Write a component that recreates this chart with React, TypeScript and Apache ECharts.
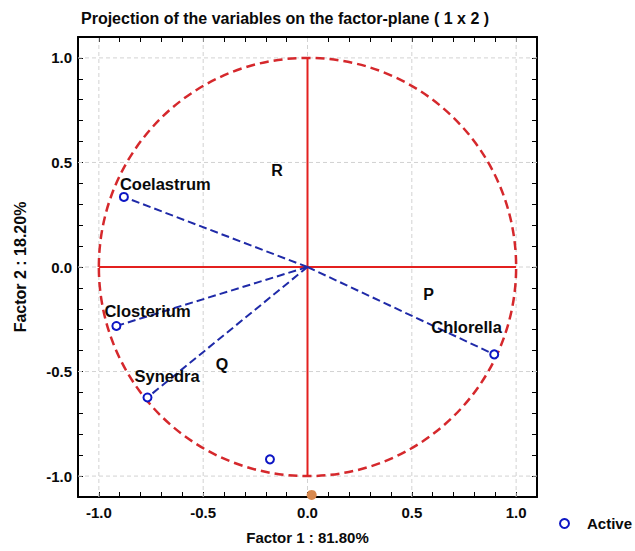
import React, { useEffect, useRef } from "react";
import * as echarts from "echarts";

// ---- data ----
const variableNames = ["Coelastrum", "Closterium", "Synedra", "Chlorella"];
const variableF1 = [-0.88, -0.916, -0.767, 0.895];
const variableF2 = [0.335, -0.282, -0.624, -0.418];
const unlabeledF1 = [-0.18];
const unlabeledF2 = [-0.92];
const supplementaryF1 = [0.02];
const supplementaryF2 = [-1.09];
const regionNames = ["R", "P", "Q"];
const regionF1 = [-0.146, 0.58, -0.41];
const regionF2 = [0.46, -0.13, -0.466];
const majorTicks = [-1.0, -0.5, 0.0, 0.5, 1.0];
const axisMin = -1.1;
const axisMax = 1.1;
const minorStep = 0.1;
const unitCircleRadius = [1];

const titleText = "Projection of the variables on the factor-plane ( 1 x 2 )";
const xName = "Factor 1 : 81.80%";
const yName = "Factor 2 : 18.20%";
const legendName = "Active";

// ---- styling ----
const FONT = "'Liberation Sans', Arial, sans-serif";
const BLUE = "#0d16c4";
const BLUE_LINE = "#1f2aa8";
const RED = "#e3201f";
const RED_CIRCLE = "#d5282c";
const TEXT = "#0a0a0a";
const labelOffsets: Record<string, [number, number]> = {
  Coelastrum: [-4, -13],
  Closterium: [-12, -15],
  Synedra: [-13, -21],
  Chlorella: [-63, -27],
};

const isMajor = (v: number) => Math.abs(v * 2 - Math.round(v * 2)) < 1e-6;
const fmt = (v: number) => (isMajor(v) ? (Math.round(v * 10) / 10).toFixed(1) : "");

export default function App() {
  const ref = useRef<HTMLDivElement>(null);
  useEffect(() => {
    if (!ref.current) return;
    const chart = echarts.init(ref.current, null, { renderer: "svg" });

    const baseAxis = {
      type: "value" as const,
      min: axisMin,
      max: axisMax,
      interval: minorStep,
      axisLine: { show: true, onZero: false, lineStyle: { color: "#000", width: 2 } },
      axisTick: { show: true, inside: true, length: 5, lineStyle: { color: "#000", width: 1 } },
      splitLine: { show: false },
    };
    const labelStyle = {
      fontFamily: FONT,
      fontWeight: "bold" as const,
      fontSize: 15,
      color: TEXT,
      formatter: (v: number) => fmt(v),
    };

    const gridStyle = { color: "#d2d2d2", width: 1, type: [4, 3] };
    const gridSeries = [
      ...majorTicks.map((v) => ({
        type: "line",
        name: "gx" + v,
        data: [
          [v, axisMin],
          [v, axisMax],
        ],
        symbol: "none",
        lineStyle: gridStyle,
        silent: true,
        z: 0,
      })),
      ...majorTicks.map((v) => ({
        type: "line",
        name: "gy" + v,
        data: [
          [axisMin, v],
          [axisMax, v],
        ],
        symbol: "none",
        lineStyle: gridStyle,
        silent: true,
        z: 0,
      })),
    ];

    const spokes = variableNames.map((name, i) => ({
      type: "line",
      name: "spoke-" + name,
      data: [
        [0, 0],
        [variableF1[i], variableF2[i]],
      ],
      symbol: "none",
      lineStyle: { color: BLUE_LINE, width: 2, type: [8, 4] },
      silent: true,
      z: 4,
    }));

    const option: any = {
      animation: false,
      title: {
        text: titleText,
        left: 81,
        top: 10,
        padding: 0,
        textStyle: { fontFamily: FONT, fontSize: 16, fontWeight: "bold", color: TEXT },
      },
      legend: {
        data: [legendName],
        left: 559,
        top: 516,
        padding: 0,
        itemWidth: 9,
        itemHeight: 9,
        textStyle: {
          fontFamily: FONT,
          fontSize: 15,
          fontWeight: "bold",
          color: TEXT,
          padding: [0, 0, 0, 13],
        },
      },
      grid: { left: 78, top: 37, width: 459, height: 460, containLabel: false },
      xAxis: [
        {
          ...baseAxis,
          position: "bottom",
          name: xName,
          nameLocation: "middle",
          nameGap: 33,
          nameTextStyle: { fontFamily: FONT, fontSize: 15, fontWeight: "bold", color: TEXT },
          axisLabel: { ...labelStyle, margin: 8, showMinLabel: true, showMaxLabel: true },
        },
        { ...baseAxis, position: "top", axisLabel: { show: false } },
      ],
      yAxis: [
        {
          ...baseAxis,
          position: "left",
          name: yName,
          nameLocation: "middle",
          nameGap: 50,
          nameRotate: 90,
          nameTextStyle: { fontFamily: FONT, fontSize: 16, fontWeight: "bold", color: TEXT },
          axisLabel: { ...labelStyle, margin: 6 },
        },
        { ...baseAxis, position: "right", axisLabel: { show: false } },
      ],
      series: [
        ...gridSeries,
        {
          type: "custom",
          name: "circle",
          silent: true,
          z: 2,
          data: unitCircleRadius.map((r) => [0, 0, r]),
          renderItem: (params: any, api: any) => {
            const c = api.coord([api.value(0), api.value(1)]);
            const s = api.size([api.value(2), api.value(2)]);
            return {
              type: "ellipse",
              shape: { cx: c[0], cy: c[1], rx: s[0], ry: s[1] },
              style: { fill: "none", stroke: RED_CIRCLE, lineWidth: 2.5, lineDash: [9, 5] },
            };
          },
        },
        {
          type: "line",
          name: "axis-h",
          data: [
            [majorTicks[0], 0],
            [majorTicks[majorTicks.length - 1], 0],
          ],
          symbol: "none",
          lineStyle: { color: RED, width: 2 },
          silent: true,
          z: 3,
        },
        {
          type: "line",
          name: "axis-v",
          data: [
            [0, majorTicks[0]],
            [0, majorTicks[majorTicks.length - 1]],
          ],
          symbol: "none",
          lineStyle: { color: RED, width: 2 },
          silent: true,
          z: 3,
        },
        ...spokes,
        {
          type: "scatter",
          name: legendName,
          symbol: "emptyCircle",
          symbolSize: 8,
          itemStyle: { color: BLUE, borderWidth: 2.5, opacity: 1 },
          z: 6,
          data: [
            ...variableNames.map((name, i) => ({
              name,
              value: [variableF1[i], variableF2[i]],
              label: {
                show: true,
                position: "inside",
                align: "left",
                verticalAlign: "middle",
                offset: labelOffsets[name],
                formatter: name,
                fontFamily: FONT,
                fontSize: 16.5,
                fontWeight: "bold",
                color: TEXT,
              },
            })),
            ...unlabeledF1.map((x, i) => ({ name: "", value: [x, unlabeledF2[i]] })),
          ],
        },
        {
          type: "scatter",
          name: "supplementary",
          symbol: "circle",
          symbolSize: 10,
          itemStyle: { color: "#d8894f", opacity: 1 },
          z: 6,
          clip: false,
          data: supplementaryF1.map((x, i) => [x, supplementaryF2[i]]),
        },
        {
          type: "scatter",
          name: "regions",
          symbolSize: 0,
          silent: true,
          z: 7,
          itemStyle: { opacity: 1 },
          data: regionNames.map((n, i) => ({ name: n, value: [regionF1[i], regionF2[i]] })),
          label: {
            show: true,
            position: "inside",
            formatter: (p: any) => p.name,
            fontFamily: FONT,
            fontSize: 16,
            fontWeight: "bold",
            color: TEXT,
          },
        },
      ],
    };
    chart.setOption(option);
    return () => chart.dispose();
  }, []);
  return (
    <div
      ref={ref}
      style={{ position: "absolute", left: 0, top: 0, width: 635, height: 551, background: "#fff" }}
    />
  );
}
